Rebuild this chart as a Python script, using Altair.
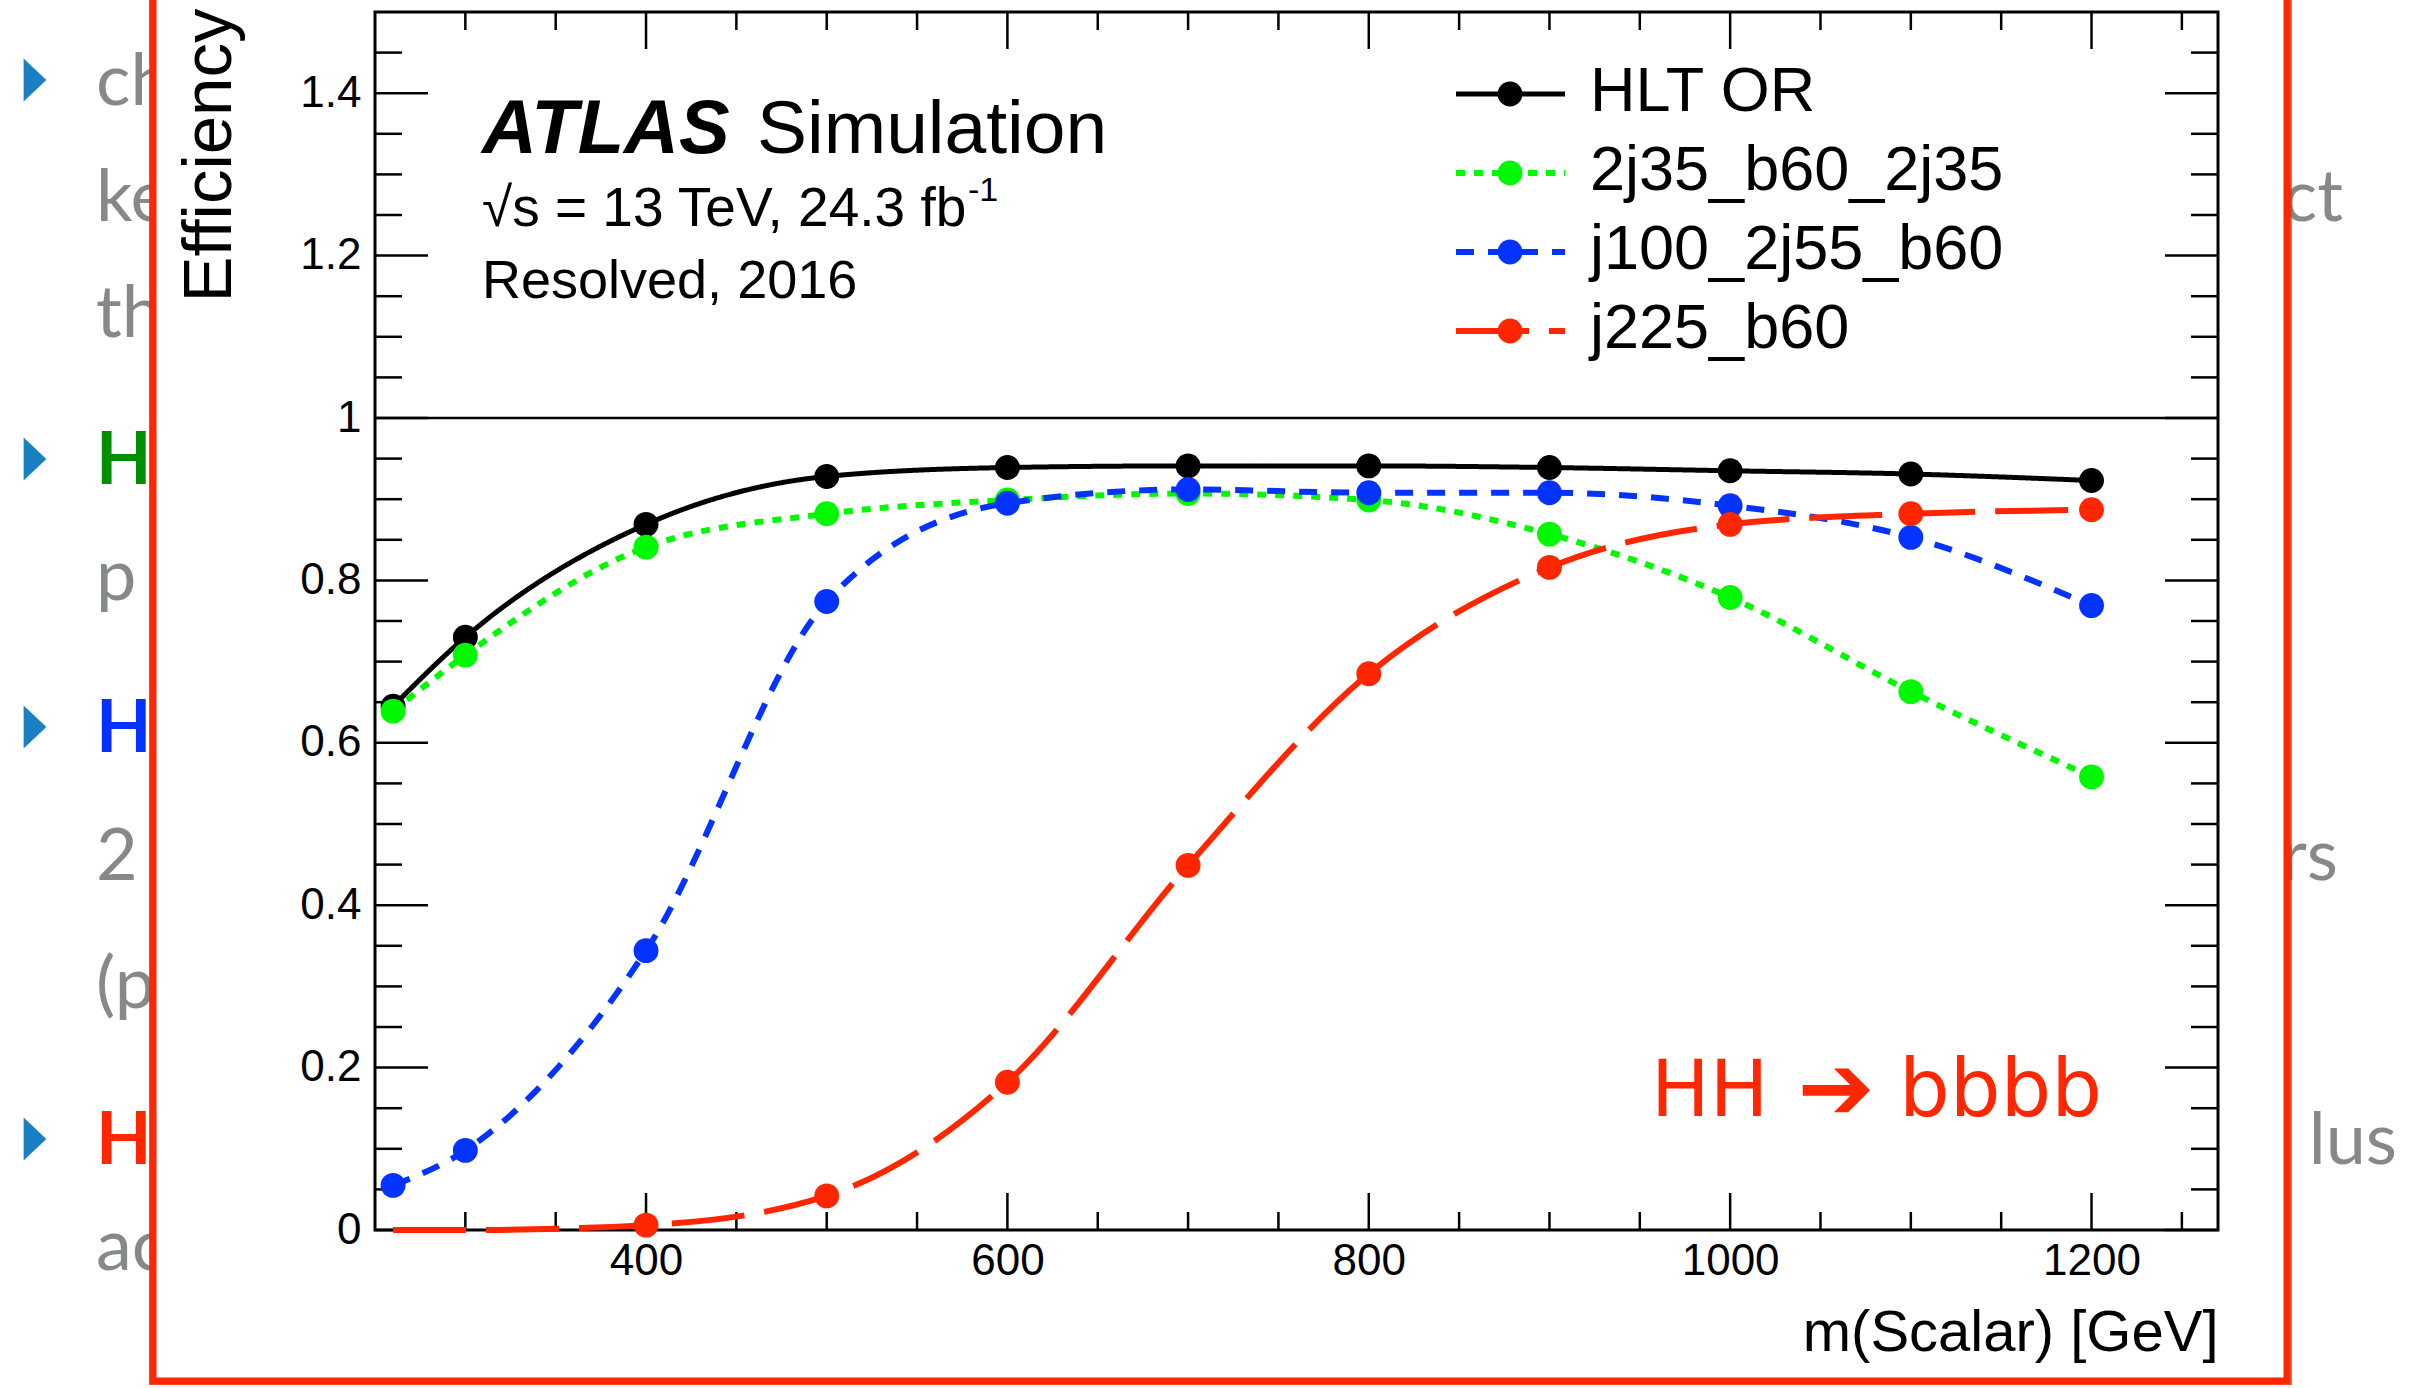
import altair as alt
import pandas as pd

# ---------------- data ----------------
mass = [260, 300, 400, 500, 600, 700, 800, 900, 1000, 1100, 1200]
series_names = ["HLT OR", "2j35_b60_2j35", "j100_2j55_b60", "j225_b60"]
eff_hlt_or = [0.645, 0.730, 0.869, 0.928, 0.939, 0.941, 0.941, 0.939, 0.935, 0.931, 0.923]
eff_2j35_b60_2j35 = [0.639, 0.708, 0.841, 0.882, 0.899, 0.907, 0.899, 0.857, 0.779, 0.663, 0.558]
eff_j100_2j55_b60 = [0.055, 0.098, 0.344, 0.774, 0.895, 0.912, 0.908, 0.908, 0.892, 0.853, 0.769]
eff_j225_b60 = [0.0, 0.0, 0.006, 0.042, 0.182, 0.449, 0.685, 0.816, 0.869, 0.882, 0.887]
series_values = [eff_hlt_or, eff_2j35_b60_2j35, eff_j100_2j55_b60, eff_j225_b60]

x_major_ticks = [400, 600, 800, 1000, 1200]
x_minor_ticks = [300, 350, 450, 500, 550, 650, 700, 750, 850, 900, 950, 1050, 1100, 1150, 1250]
y_major_ticks = [0, 0.2, 0.4, 0.6, 0.8, 1, 1.2, 1.4]
y_minor_ticks = [0.05, 0.1, 0.15, 0.25, 0.3, 0.35, 0.45, 0.5, 0.55, 0.65, 0.7, 0.75,
                 0.85, 0.9, 0.95, 1.05, 1.1, 1.15, 1.25, 1.3, 1.35, 1.45]
reference_level = [1.0]

slide_left_fragments = ["ch", "ke", "th", "H", "p", "H", "2", "(p", "H", "ac"]
slide_right_fragments = ["ct", "rs", "lus"]

# ---------------- styles / layout ----------------
series_colors = ["#000000", "#00f900", "#0433ff", "#ff2600"]
series_dash = [[1, 0], [9, 9], [18, 14], [73, 20]]
series_width = [5, 6, 6, 6]

PL, PT = 375, 12
W, H = 1843, 1218
FONT = "Liberation Sans"
SLIDE_FONT = "Lato"
GRAY = "#86898a"
MARKER = 620


def px(v):
    return v - PL


def py(v):
    return v - PT


xs = alt.Scale(domain=[250, 1270], nice=False, zero=False)
ys = alt.Scale(domain=[0, 1.5], nice=False, zero=False)

xaxis = alt.Axis(values=x_major_ticks, format="d", labelFont=FONT, labelFontSize=44,
                 labelColor="black", labelPadding=9, ticks=False, domain=False, grid=False,
                 labelFlush=False, labelOverlap=False,
                 title="m(Scalar) [GeV]", titleFont=FONT, titleFontSize=58,
                 titleFontWeight="normal", titleColor="black", titleAlign="right",
                 titleBaseline="alphabetic", titleX=W, titleY=120, zindex=1)
yaxis = alt.Axis(values=y_major_ticks, format="~g", labelFont=FONT, labelFontSize=44,
                 labelColor="black", labelPadding=14, ticks=False, domain=False, grid=False,
                 labelFlush=False, labelOverlap=False,
                 title="Efficiency", titleFont=FONT, titleFontSize=69,
                 titleFontWeight="normal", titleColor="black", titleAngle=270,
                 titleAlign="right", titleBaseline="alphabetic", titleX=-145, titleY=-4,
                 zindex=1)


def X(f):
    return alt.X(f, type="quantitative", scale=xs, axis=xaxis)


def Y(f):
    return alt.Y(f, type="quantitative", scale=ys, axis=yaxis)


dummy = pd.DataFrame({"d": [0]})


def label(text, x, y, size, color="black", font=FONT, align="left", weight="normal",
          style="normal", baseline="alphabetic"):
    return alt.Chart(dummy).mark_text(
        text=text, align=align, baseline=baseline, fontSize=size, font=font,
        color=color, fontWeight=weight, fontStyle=style
    ).encode(x=alt.value(x), y=alt.value(y))


layers = []

# ---------------- slide background fragments ----------------
left_rows = [105, 221, 337, 484, 600, 752, 880, 1008, 1164, 1270]
left_colors = [GRAY, GRAY, GRAY, "#008f00", GRAY, "#0433ff", GRAY, GRAY, "#ff2600", GRAY]
for txt, row, col in zip(slide_left_fragments, left_rows, left_colors):
    layers.append(label(txt, px(96), py(row), 72, color=col, font=SLIDE_FONT,
                        weight="bold" if txt == "H" else "normal"))
right_rows = [221, 880, 1164]
right_ends = [2343, 2338, 2397]
for txt, row, xe in zip(slide_right_fragments, right_rows, right_ends):
    layers.append(label(txt, px(xe), py(row), 72, color=GRAY, font=SLIDE_FONT, align="right"))

for row in [80, 459, 727, 1139]:
    layers.append(alt.Chart(dummy).mark_point(
        shape="M -0.53 -1 L 0.53 0 L -0.53 1 Z", filled=True, size=1849,
        color="#1a80c4", opacity=1
    ).encode(x=alt.value(px(35)), y=alt.value(py(row))))

# white chart image on top of slide + hand-drawn red frame
layers.append(alt.Chart(dummy).mark_rect(color="white").encode(
    x=alt.value(px(153)), x2=alt.value(px(2287)), y=alt.value(py(-30)), y2=alt.value(py(1381))))
layers.append(alt.Chart(dummy).mark_rect(fillOpacity=0, stroke="#ff2600", strokeWidth=7).encode(
    x=alt.value(px(153)), x2=alt.value(px(2287)), y=alt.value(py(-30)), y2=alt.value(py(1381))))
layers.append(alt.Chart(dummy).mark_rect(fillOpacity=0, stroke="#ff2600", strokeWidth=2,
                                         strokeOpacity=0.7).encode(
    x=alt.value(px(150)), x2=alt.value(px(2291)), y=alt.value(py(-30)), y2=alt.value(py(1384))))

# ---------------- plot frame and ticks ----------------
xmaj = pd.DataFrame({"v": x_major_ticks})
xmin = pd.DataFrame({"v": x_minor_ticks})
ymaj = pd.DataFrame({"v": y_major_ticks})
ymin = pd.DataFrame({"v": y_minor_ticks})
tick_style = dict(color="black", strokeWidth=2.5)
for dfx, ln in [(xmaj, 37), (xmin, 18)]:
    layers.append(alt.Chart(dfx).mark_rule(**tick_style).encode(
        x=X("v"), y=alt.value(H), y2=alt.value(H - ln)))
    layers.append(alt.Chart(dfx).mark_rule(**tick_style).encode(
        x=X("v"), y=alt.value(0), y2=alt.value(ln)))
for dfy, ln in [(ymaj, 53), (ymin, 27)]:
    layers.append(alt.Chart(dfy).mark_rule(**tick_style).encode(
        y=Y("v"), x=alt.value(0), x2=alt.value(ln)))
    layers.append(alt.Chart(dfy).mark_rule(**tick_style).encode(
        y=Y("v"), x=alt.value(W), x2=alt.value(W - ln)))

layers.append(alt.Chart(pd.DataFrame({"v": reference_level})).mark_rule(
    color="black", strokeWidth=2.5).encode(y=Y("v"), x=alt.value(0), x2=alt.value(W)))

layers.append(alt.Chart(dummy).mark_rect(fillOpacity=0, stroke="black", strokeWidth=3).encode(
    x=alt.value(0), x2=alt.value(W), y=alt.value(0), y2=alt.value(H)))

# ---------------- curves ----------------
for name, vals, col, dash, sw in zip(series_names, series_values, series_colors,
                                     series_dash, series_width):
    df = pd.DataFrame({"m": mass, "eff": vals, "series": name})
    layers.append(alt.Chart(df).mark_line(
        color=col, strokeWidth=sw, strokeDash=dash, interpolate="monotone"
    ).encode(x=X("m"), y=Y("eff")))
    layers.append(alt.Chart(df).mark_circle(color=col, size=MARKER, opacity=1).encode(
        x=X("m"), y=Y("eff")).transform_filter("datum.eff > 0"))

# ---------------- legend ----------------
leg_base = [99, 178, 257, 336]
for name, col, dash, sw, b in zip(series_names, series_colors, series_dash, series_width, leg_base):
    yl = b - 17
    layers.append(alt.Chart(dummy).mark_rule(color=col, strokeWidth=sw, strokeDash=dash).encode(
        x=alt.value(1081), x2=alt.value(1190), y=alt.value(yl)))
    layers.append(alt.Chart(dummy).mark_circle(color=col, size=MARKER, opacity=1).encode(
        x=alt.value(1135), y=alt.value(yl)))
    layers.append(label(name, 1215, b, 63))

# ---------------- annotations ----------------
layers.append(label("ATLAS", px(482), py(153), 76, weight="bold", style="italic"))
layers.append(label("Simulation", px(757), py(153), 75))
layers.append(label("\u221As = 13 TeV, 24.3 fb", px(482), py(226), 55))
layers.append(label("-1", px(968), py(201), 34))
layers.append(label("Resolved, 2016", px(482), py(298), 54))

layers.append(label("HH", px(1651), py(1116), 78, color="#ff2600", font="DejaVu Sans"))
layers.append(label("\u2794", px(1836), py(1119), 92, color="#ff2600", font="DejaVu Sans",
                    align="center"))
layers.append(label("bbbb", px(1899), py(1116), 80, color="#ff2600", font="DejaVu Sans",
                    align="left"))

chart = alt.layer(*layers).properties(
    width=W, height=H,
    padding={"left": PL, "top": PT, "right": 2424 - PL - W, "bottom": 1388 - PT - H},
    autosize=alt.AutoSizeParams(type="none"),
    background="white",
).configure_view(stroke="transparent")

chart.save("out.html", embed_options={"renderer": "svg", "actions": False})
